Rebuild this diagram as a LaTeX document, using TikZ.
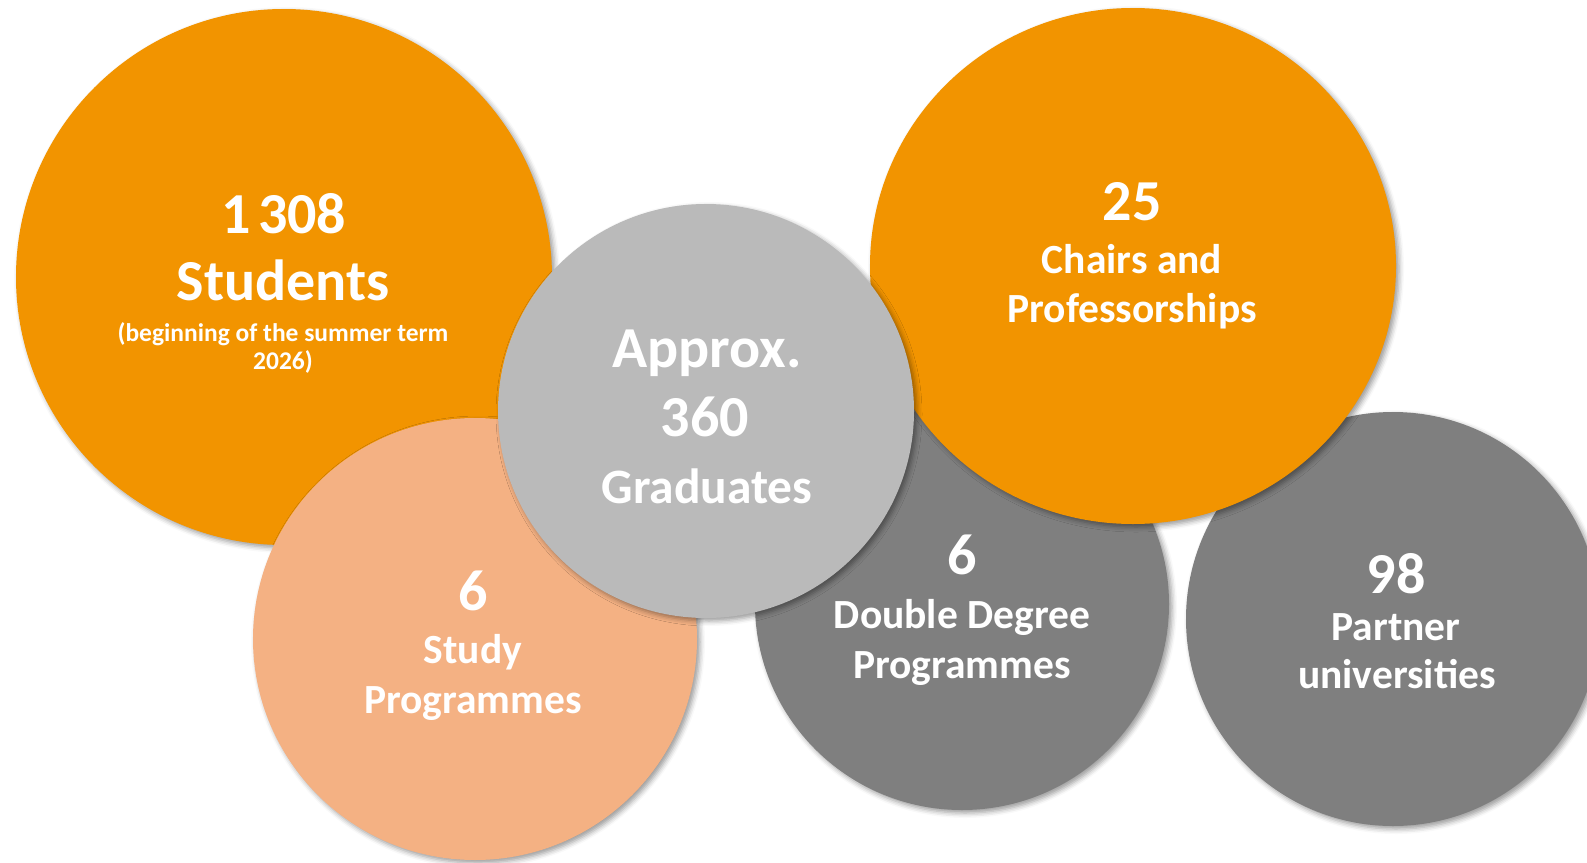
\documentclass[tikz,border=0pt]{standalone}
\usepackage{fontspec}
\setmainfont{Carlito}
\usetikzlibrary{shapes.geometric,shadows.blur}
\definecolor{orangeA}{HTML}{F29400}
\definecolor{peachA}{HTML}{F4B183}
\definecolor{greyL}{HTML}{BABABA}
\definecolor{greyD}{HTML}{7F7F7F}
\tikzset{
  bubble/.style={ellipse, inner sep=0pt, draw=none,
    blur shadow={shadow xshift=3pt, shadow yshift=-3pt, shadow blur radius=5pt, shadow opacity=40}},
  txt/.style={text=white, anchor=base, inner sep=0pt},
  bignum/.style={txt, font=\bfseries\fontsize{58}{70}\selectfont},
  lbl/.style={txt, font=\bfseries\fontsize{41.5}{50}\selectfont},
  gradlbl/.style={txt, font=\bfseries\fontsize{49.5}{60}\selectfont},
  small/.style={txt, font=\bfseries\fontsize{25.5}{30}\selectfont}
}
\begin{document}
\begin{tikzpicture}[x=1pt,y=-1pt]
\useasboundingbox (0,0) rectangle (1587,862);
\clip (0,0) rectangle (1587,862);
% circles, back to front
\node[bubble, fill=orangeA, minimum width=536pt, minimum height=536pt] (students) at (284,277) {};
\node[bubble, fill=peachA, minimum width=444pt, minimum height=442pt] (study) at (475,639) {};
\node[bubble, fill=greyD, minimum width=414pt, minimum height=412pt] (double) at (962,604) {};
\node[bubble, fill=greyD, minimum width=414pt, minimum height=414pt] (partner) at (1393,619) {};
\node[bubble, fill=orangeA, minimum width=526pt, minimum height=516pt] (chairs) at (1133,266) {};
\node[bubble, fill=greyL, minimum width=416pt, minimum height=414pt] (grad) at (706,411) {};
% texts
\node[bignum] (s1) at (284,233) {1\kern7pt308};
\node[bignum] (s2) at (283,300) {Students};
\node[small] (s3) at (283,341) {(beginning of the summer term};
\node[small] (s4) at (283,369) {2026)};
\node[bignum] (c1) at (1132,220) {25};
\node[lbl] (c2) at (1132,273) {Chairs and};
\node[lbl] (c3) at (1132,322) {Professorships};
\node[bignum] (g1) at (707,367) {Approx.};
\node[bignum] (g2) at (705,436) {360};
\node[gradlbl] (g3) at (707,503) {Graduates};
\node[bignum] (p1) at (473,610) {6};
\node[lbl] (p2) at (473,663) {Study};
\node[lbl] (p3) at (473,713) {Programmes};
\node[bignum] (d1) at (962,574) {6};
\node[lbl] (d2) at (962,628) {Double Degree};
\node[lbl] (d3) at (962,678) {Programmes};
\node[bignum] (u1) at (1396,593) {98};
\node[lbl] (u2) at (1396,640) {Partner};
\node[lbl] (u3) at (1397,688) {universities};
\end{tikzpicture}
\end{document}
